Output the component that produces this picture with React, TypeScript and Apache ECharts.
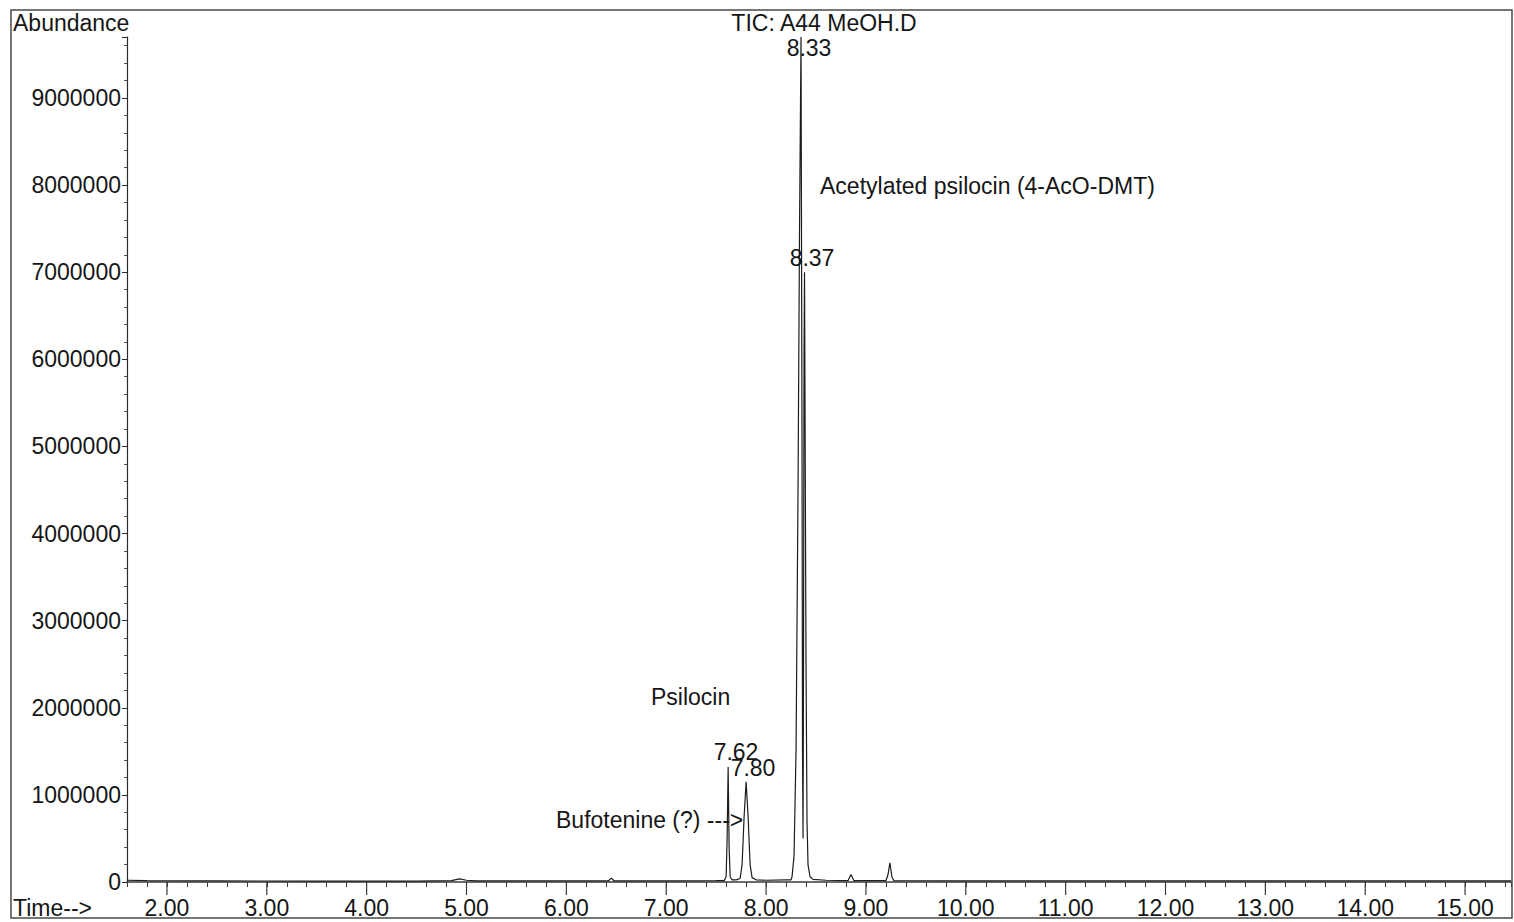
import React, { useEffect, useRef } from "react";
import * as echarts from "echarts";

// ---- data ----
const chartTitle = "TIC: A44 MeOH.D";
const yAxisName = "Abundance";
const xAxisName = "Time-->";

// retention time (min) / abundance pairs, segment by segment
const earlyTime = [1.6, 1.8, 2.5, 3.5, 4.5, 4.85, 4.93, 5.0, 5.1, 6.0, 6.42, 6.45, 6.48, 7.0, 7.5, 7.58];
const earlyAbund = [20000, 15000, 12000, 10000, 10000, 15000, 35000, 20000, 12000, 12000, 12000, 45000, 12000, 14000, 15000, 16000];

const psilocinTime = [7.6, 7.61, 7.62, 7.63, 7.64, 7.66, 7.7, 7.74, 7.76, 7.78, 7.8, 7.82, 7.84, 7.86, 7.9, 8.0, 8.2];
const psilocinAbund = [60000, 500000, 1320000, 400000, 60000, 25000, 25000, 40000, 200000, 750000, 1150000, 750000, 200000, 50000, 25000, 20000, 25000];

const acetylTime = [8.25, 8.26, 8.28, 8.3, 8.32, 8.335, 8.35, 8.36, 8.365, 8.37, 8.375, 8.38, 8.385, 8.39, 8.4, 8.41, 8.42, 8.44, 8.47];
const acetylAbund = [25000, 60000, 300000, 1500000, 4500000, 7500000, 9700000, 5000000, 1500000, 500000, 2500000, 6000000, 7000000, 5500000, 2500000, 700000, 200000, 60000, 30000];

const lateTime = [8.6, 8.82, 8.85, 8.88, 9.2, 9.22, 9.24, 9.26, 9.28, 10.0, 11.0, 12.0, 13.0, 14.0, 15.0, 15.46];
const lateAbund = [20000, 15000, 85000, 15000, 15000, 80000, 220000, 60000, 15000, 13000, 12000, 12000, 12000, 12000, 12000, 12000];

const xMajorTicks = [2, 3, 4, 5, 6, 7, 8, 9, 10, 11, 12, 13, 14, 15];
const yMax = 9700000;

const allTime = [...earlyTime, ...psilocinTime, ...acetylTime, ...lateTime];
const allAbund = [...earlyAbund, ...psilocinAbund, ...acetylAbund, ...lateAbund];

const FONT = '"Liberation Sans", Arial, Helvetica, sans-serif';
const FS = 23;
const INK = "#161616";

export default function App() {
  const ref = useRef<HTMLDivElement>(null);

  useEffect(() => {
    if (!ref.current) return;
    const chart = echarts.init(ref.current, undefined, { renderer: "svg" });

    const lineData = allTime.map((t, i) => [t, allAbund[i]]);
    const majorData = xMajorTicks.map((t) => [t, 0]);

    const text = (t: string, x: number, y: number, align = "left") => ({
      type: "text",
      x,
      y,
      silent: true,
      z: 100,
      style: {
        text: t,
        font: `${FS}px ${FONT}`,
        fill: INK,
        textAlign: align,
        textVerticalAlign: "middle",
      },
    });

    chart.setOption({
      animation: false,
      backgroundColor: "#ffffff",
      grid: { left: 127, top: 37, right: 1, bottom: 40, containLabel: false },
      xAxis: {
        type: "value",
        min: 1.6,
        max: 15.46,
        interval: 0.2,
        axisLine: { show: true, lineStyle: { color: "#3a3a3a", width: 1.5 } },
        axisTick: { show: true, inside: false, length: 5, lineStyle: { color: "#3a3a3a", width: 1 } },
        splitLine: { show: false },
        axisLabel: {
          show: true,
          margin: 14,
          fontSize: FS,
          fontFamily: FONT,
          color: INK,
          showMinLabel: true,
          showMaxLabel: true,
          formatter: (v: number) =>
            Math.abs(v - Math.round(v)) < 1e-6 && xMajorTicks.includes(Math.round(v))
              ? Math.round(v).toFixed(2)
              : "",
        },
      },
      yAxis: {
        type: "value",
        min: 0,
        max: yMax,
        interval: 1000000,
        axisLine: { show: true, lineStyle: { color: "#2a2a2a", width: 1.2 } },
        axisTick: { show: true, length: 5, lineStyle: { color: "#2a2a2a" } },
        minorTick: { show: true, splitNumber: 5, length: 3, lineStyle: { color: "#555" } },
        splitLine: { show: false },
        axisLabel: {
          margin: 6,
          fontSize: FS,
          fontFamily: FONT,
          color: INK,
          formatter: (v: number) => (v % 1000000 === 0 ? String(v) : ""),
        },
      },
      series: [
        {
          name: chartTitle,
          type: "line",
          data: lineData,
          showSymbol: false,
          symbol: "none",
          smooth: false,
          clip: true,
          lineStyle: { color: "#1c1c1c", width: 1.2 },
          z: 5,
        },
        {
          type: "custom",
          name: "majorTicks",
          silent: true,
          clip: false,
          data: majorData,
          encode: { x: 0, y: 1 },
          renderItem: (params: any, api: any) => {
            const p = api.coord([api.value(0), 0]);
            return {
              type: "line",
              shape: { x1: p[0], y1: p[1], x2: p[0], y2: p[1] + 13 },
              style: { stroke: "#3a3a3a", lineWidth: 1.2 },
            };
          },
        },
      ],
      graphic: [
        {
          type: "rect",
          silent: true,
          z: 50,
          shape: { x: 11, y: 10, width: 1501, height: 908 },
          style: { fill: "none", stroke: "#4a4a4a", lineWidth: 1.5 },
        },
        text(yAxisName, 13, 23),
        text(xAxisName, 13, 908),
        text(chartTitle, 824, 23, "center"),
        text("8.33", 809, 48, "center"),
        text("8.37", 812, 258, "center"),
        text("Acetylated psilocin (4-AcO-DMT)", 820, 186),
        text("Psilocin", 651, 697),
        text("7.62", 736, 752, "center"),
        text("7.80", 753, 768, "center"),
        text("Bufotenine (?) --->", 556, 820),
      ],
    });

    return () => chart.dispose();
  }, []);

  return (
    <div
      ref={ref}
      style={{ position: "absolute", left: 0, top: 0, width: 1514, height: 922, background: "#fff" }}
    />
  );
}
